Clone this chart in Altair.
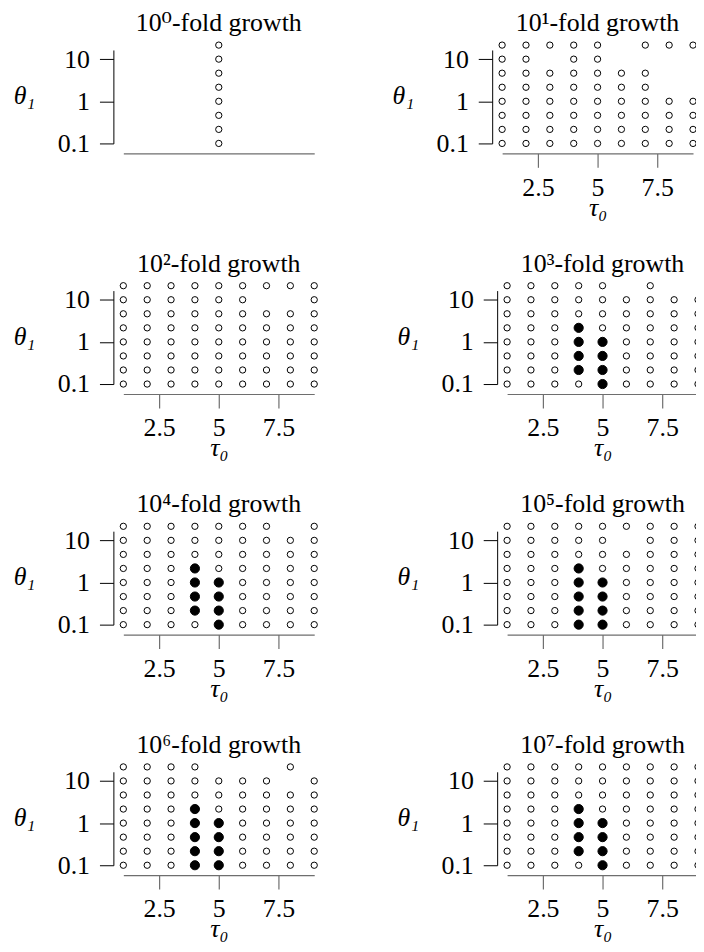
import altair as alt
import pandas as pd

# ---- data -------------------------------------------------------------
tau0 = [1, 2, 3, 4, 5, 6, 7, 8, 9]
theta1 = [0.1, 0.2154, 0.4642, 1.0, 2.154, 4.642, 10.0, 21.54]
growth_titles = [
    "10⁰-fold growth", "10¹-fold growth", "10²-fold growth", "10³-fold growth",
    "10⁴-fold growth", "10⁵-fold growth", "10⁶-fold growth", "10⁷-fold growth",
]
# grid rows listed from the top theta1 row (21.5) down to 0.1
# 'o' = open circle, '#' = filled circle, '.' = no point ; columns tau0 = 1..9
grid_e0 = ["....o....", "....o....", "....o....", "....o....",
           "....o....", "....o....", "....o....", "....o...."]
grid_e1 = ["ooooo.ooo", "oo.oo....", "ooooooo..", "ooooooo..",
           "ooooooooo", "ooooooooo", "ooooooooo", "ooooooooo"]
grid_e2 = ["ooooooooo", "oooooo..o", "ooooooooo", "ooooooooo",
           "ooooooooo", "ooooooooo", "ooooooooo", "ooooooooo"]
grid_e3 = ["ooooo.o..", "ooooooooo", "ooooooooo", "ooo#ooooo",
           "ooo##oooo", "ooo##oooo", "ooo##oooo", "oooo#oooo"]
grid_e4 = ["ooooooo.o", "ooooooooo", "ooooooooo", "ooo#ooooo",
           "ooo##oooo", "ooo##oooo", "ooo##oooo", "oooo#oooo"]
grid_e5 = ["ooooooooo", "ooooo.ooo", "ooooooooo", "ooo#ooooo",
           "ooo##oooo", "ooo##oooo", "ooo##oooo", "ooo##oooo"]
grid_e6 = ["oooo...o.", "ooooooo.o", "ooooooooo", "ooo#ooooo",
           "ooo##oooo", "ooo##oooo", "ooo##oooo", "ooo##oooo"]
grid_e7 = ["ooooooooo", "ooooooooo", "ooooooooo", "ooo#ooooo",
           "ooo##oooo", "ooo##oooo", "ooo##oooo", "oooo#oooo"]
grids = [grid_e0, grid_e1, grid_e2, grid_e3, grid_e4, grid_e5, grid_e6, grid_e7]

x_ticks = [2.5, 5, 7.5]
y_ticks = [0.1, 1, 10]

SERIF = "Liberation Serif, Times New Roman, Tinos, DejaVu Serif, serif"
W, H = 192, 94


def panel(idx):
    grid = grids[idx]
    recs = []
    for r, line in enumerate(grid):
        th = theta1[len(grid) - 1 - r]
        for c, ch in enumerate(line):
            if ch != ".":
                recs.append({"tau0": tau0[c], "theta1": th,
                             "state": "filled" if ch == "#" else "open"})
    df = pd.DataFrame(recs)

    if idx == 0:
        xaxis = alt.Axis(ticks=False, labels=False, title=None, grid=False,
                         offset=10, domainColor="#6e6e6e", domainWidth=1.2)
    else:
        xaxis = alt.Axis(values=x_ticks, format=".1~f", grid=False, offset=10,
                         tickSize=14, tickColor="#6e6e6e", tickWidth=1.2,
                         domainColor="#6e6e6e", domainWidth=1.2,
                         labelFont=SERIF, labelFontSize=26, labelColor="black",
                         labelPadding=7, labelFlush=False,
                         title="τ₀", titleFont=SERIF, titleFontStyle="italic",
                         titleFontWeight="normal", titleFontSize=26,
                         titleColor="black", titleX=W / 2, titleY=62,
                         titleAlign="center", titleBaseline="alphabetic")
    yaxis = alt.Axis(values=y_ticks, format="~g", grid=False, offset=10,
                     tickSize=14, tickColor="black", domainColor="black",
                     labelFont=SERIF, labelFontSize=26, labelColor="black",
                     labelPadding=10, labelFlush=False,
                     title="θ₁", titleFont=SERIF, titleFontStyle="italic",
                     titleFontWeight="normal", titleFontSize=26,
                     titleColor="black", titleAngle=0, titleX=-79, titleY=54,
                     titleAlign="right", titleBaseline="alphabetic")

    pts = alt.Chart(df).mark_point(
        shape="circle", filled=True, stroke="black", strokeWidth=1, opacity=1
    ).encode(
        x=alt.X("tau0:Q", scale=alt.Scale(domain=[1, 9], nice=False, zero=False), axis=xaxis),
        y=alt.Y("theta1:Q", scale=alt.Scale(type="log", domain=[0.1, 16.5], nice=False), axis=yaxis),
        fill=alt.Fill("state:N", scale=alt.Scale(domain=["open", "filled"], range=["white", "black"]), legend=None),
        size=alt.Size("state:N", scale=alt.Scale(domain=["open", "filled"], range=[40, 85]), legend=None),
    )
    ttl = alt.Chart(pd.DataFrame({"t": [growth_titles[idx]]})).mark_text(
        font=SERIF, fontSize=26, color="black", align="center", baseline="alphabetic"
    ).encode(x=alt.value(W / 2), y=alt.value(-19), text="t:N")
    return alt.layer(pts, ttl).properties(width=W, height=H)


rows = []
for r in range(4):
    rows.append(alt.hconcat(panel(2 * r), panel(2 * r + 1), spacing=76))

chart = alt.vconcat(*rows, spacing=29).configure_view(
    stroke="transparent").properties(background="white", padding={"left": 4, "top": -1.5, "right": -8, "bottom": 0})

chart.save("out.html", embed_options={"renderer": "svg", "actions": False})
